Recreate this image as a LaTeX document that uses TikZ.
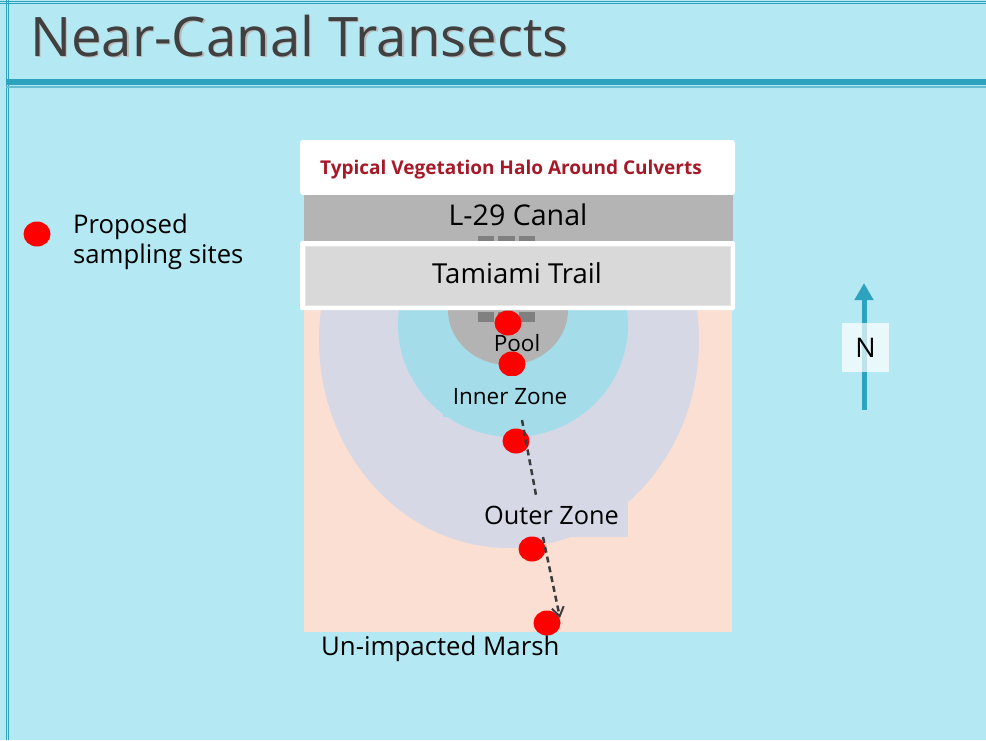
\documentclass[tikz,border=0pt]{standalone}
\usepackage{fontspec}
\setmainfont{Open Sans}
\usetikzlibrary{arrows.meta,shapes.geometric}
\definecolor{bgc}{RGB}{180,233,243}
\definecolor{teal}{RGB}{46,163,191}
\definecolor{teallt}{RGB}{100,190,212}
\definecolor{peach}{RGB}{250,223,210}
\definecolor{lav}{RGB}{214,216,230}
\definecolor{innerc}{RGB}{165,220,233}
\definecolor{poolc}{RGB}{179,179,179}
\definecolor{darksq}{RGB}{128,128,128}
\definecolor{canalc}{RGB}{180,180,180}
\definecolor{trailc}{RGB}{217,217,217}
\definecolor{capred}{RGB}{165,25,40}
\definecolor{titlec}{RGB}{64,64,64}
\definecolor{dashc}{RGB}{60,60,60}
\tikzset{
  site/.style={ellipse,fill=red,inner sep=0pt,minimum width=27pt,minimum height=25pt},
  lbl/.style={inner sep=0pt,text=black},
  transect/.style={draw=dashc,line width=2.5pt,dash pattern=on 6pt off 4pt},
  sq/.style={fill=darksq}
}
\begin{document}
\begin{tikzpicture}[x=1pt,y=-1pt]
\useasboundingbox (0,0) rectangle (986,740);
\fill[bgc] (0,0) rectangle (986,740);
% frame
\draw[teal,line width=0.8pt] (0,1.2) -- (986,1.2);
\draw[teal,line width=0.8pt] (0,3.5) -- (986,3.5);
\draw[teal,line width=0.8pt] (6,0) -- (6,740);
\draw[teal,line width=0.8pt] (8.5,0) -- (8.5,740);
\fill[teal] (6,79) rectangle (986,84.5);
\fill[teallt] (6,85.5) rectangle (986,88);
% title
\node[anchor=base west,inner sep=0pt,text=gray!55,font=\fontsize{54.5}{60}\selectfont] (titleshadow) at (31.5,57.5) {Near-Canal Transects};
\node[anchor=base west,inner sep=0pt,text=titlec,font=\fontsize{54.5}{60}\selectfont] (title) at (30,56) {Near-Canal Transects};
% legend
\node[site] (legdot) at (37,234) {};
\node[anchor=west,inner sep=0pt,align=left,font=\fontsize{25.7}{30}\selectfont] (legtxt) at (73,242) {Proposed\\sampling sites};
% marsh area
\fill[peach] (304,300) rectangle (732,632);
\begin{scope}
\clip (304,243) rectangle (732,632);
\fill[lav] (509,340) ellipse [x radius=190, y radius=208];
\node[fill=lav,lbl,minimum width=153pt,minimum height=44pt,font=\fontsize{25.3}{28}\selectfont] (outer) at (551.5,515) {Outer Zone};
\fill[innerc] (513,325) ellipse [x radius=115, y radius=112];
\fill[poolc] (508,310) ellipse [x radius=60, y radius=55];
\fill[sq] (478,312) rectangle (494,322);
\fill[sq] (498,312) rectangle (515,322);
\fill[sq] (519,312) rectangle (535,322);
\end{scope}
\node[site] (s1) at (508,323) {};
\node[site] (s2) at (512,364) {};
\node[fill=innerc,lbl,minimum width=127pt,minimum height=41pt,font=\fontsize{22.5}{24}\selectfont] (inner) at (506.5,396.5) {\hspace*{7pt}Inner Zone};
\node[lbl,font=\fontsize{22.5}{24}\selectfont] (pool) at (517,343) {Pool};
\node[site] (s3) at (516,441) {};
\node[site] (s4) at (532,549) {};
\node[site] (s5) at (547,623) {};
\node[lbl,anchor=west,font=\fontsize{25.8}{28}\selectfont] (marsh) at (321,649) {Un-impacted Marsh};
% transects
\coordinate (t1a) at (522,420);
\coordinate (t1b) at (536,495);
\coordinate (t2a) at (543,537);
\coordinate (t2b) at (560,618);
\draw[transect] (t1a) -- (t1b);
\draw[transect,-{Straight Barb[length=9pt,width=12pt,line width=2pt]}] (t2a) -- (t2b);
% boxes
\node[fill=white,rounded corners=3pt,minimum width=435pt,minimum height=55pt,inner sep=0pt] (capbox) at (517.5,167.5) {};
\node[text=capred,font=\bfseries\fontsize{19}{22}\selectfont,inner sep=0pt] (caption) at (511,170) {Typical Vegetation Halo Around Culverts};
\node[fill=canalc,minimum width=429pt,minimum height=48pt,inner sep=0pt] (canal) at (518.5,219) {};
\node[lbl,font=\fontsize{28.6}{30}\selectfont] (canaltxt) at (518,215) {L-29 Canal};
\fill[sq] (478,236) rectangle (494,241);
\fill[sq] (498,236) rectangle (515,241);
\fill[sq] (519,236) rectangle (535,241);
\node[fill=white,rounded corners=2pt,minimum width=435pt,minimum height=69pt,inner sep=0pt] (trailouter) at (517.5,275.5) {};
\node[fill=trailc,draw=white!90!black,line width=0.6pt,minimum width=425pt,minimum height=59pt,inner sep=0pt] (trail) at (517.5,275.5) {};
\node[lbl,font=\fontsize{27.5}{30}\selectfont] (trailtxt) at (517,273) {Tamiami Trail};
% north arrow
\coordinate (nbot) at (864,410);
\coordinate (ntop) at (864,283);
\draw[teal,line width=5pt,-{Triangle[length=17pt,width=18pt]}] (nbot) -- (ntop);
\node[fill=white,fill opacity=0.7,text opacity=1,minimum width=47pt,minimum height=49pt,inner sep=0pt,font=\fontsize{27}{30}\selectfont] (north) at (865.5,347.5) {N};
\end{tikzpicture}
\end{document}
